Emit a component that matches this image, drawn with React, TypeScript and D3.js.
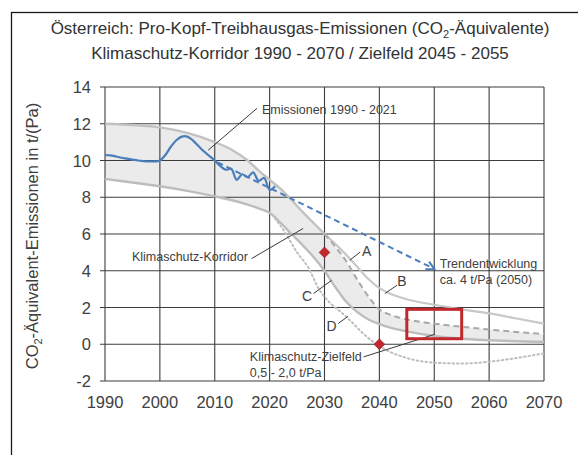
import React from 'react';
import * as d3 from 'd3';

// ---------- data ----------
const xTicks = [1990, 2000, 2010, 2020, 2030, 2040, 2050, 2060, 2070];
const yTicks = [-2, 0, 2, 4, 6, 8, 10, 12, 14];

const emissionYears = [1990, 1991, 1992, 1993, 1994, 1995, 1996, 1997, 1998, 1999, 2000, 2001, 2002, 2003, 2004, 2005, 2006, 2007, 2008, 2009, 2010, 2011, 2012, 2013, 2014, 2015, 2016, 2017, 2018, 2019, 2020, 2021];
const emissionValues = [10.3, 10.28, 10.22, 10.15, 10.1, 10.05, 10.0, 9.97, 9.95, 9.95, 10.0, 10.3, 10.75, 11.1, 11.3, 11.3, 11.1, 10.8, 10.5, 10.25, 10.0, 9.7, 9.5, 9.55, 8.95, 9.25, 9.1, 9.35, 8.9, 9.05, 8.4, 8.6];

const trendYears = [2010.5, 2050];
const trendValues = [9.9, 4.1];

const corridorYears = [1990, 1995, 2000, 2005, 2010, 2013, 2016, 2018, 2020, 2022, 2024, 2026, 2028, 2030, 2032, 2034, 2036, 2038, 2040, 2042, 2045, 2050, 2055, 2060, 2065, 2070];
// upper edge until 2030, continued by path A (dashed) afterwards
const corridorTop = [12.0, 11.93, 11.8, 11.5, 11.0, 10.6, 10.0, 9.45, 8.95, 8.45, 7.85, 7.2, 6.6, 6.0, 5.3, 4.5, 3.5, 2.6, 1.9, 1.6, 1.35, 1.12, 0.95, 0.8, 0.67, 0.55];
// lower edge, path C
const corridorBottom = [9.0, 8.8, 8.6, 8.35, 8.05, 7.85, 7.6, 7.4, 7.15, 6.6, 6.0, 5.4, 4.75, 4.0, 3.1, 2.3, 1.75, 1.35, 1.1, 0.9, 0.7, 0.45, 0.3, 0.22, 0.16, 0.12];

const pathBYears = [2030, 2032, 2034, 2036, 2038, 2040, 2042, 2045, 2050, 2055, 2060, 2065, 2070];
const pathBValues = [6.0, 5.45, 4.85, 4.2, 3.55, 3.05, 2.75, 2.45, 2.15, 1.9, 1.68, 1.4, 1.12];

const pathDYears = [2021, 2023, 2025, 2027, 2029, 2031, 2033, 2035, 2037, 2040, 2045, 2050, 2055, 2060, 2065, 2070];
const pathDValues = [6.85, 6.0, 5.0, 4.2, 3.0, 2.25, 1.75, 1.2, 0.6, -0.1, -0.75, -1.0, -1.05, -0.95, -0.75, -0.5];

const targetYears = [2045, 2055];
const targetValues = [0.3, 1.9];

const milestoneYears = [2030, 2040];
const milestoneValues = [5, 0];

// label texts and anchors (data coordinates)
const labelTexts = ['Emissionen 1990 - 2021', 'Klimaschutz-Korridor', 'Trendentwicklung', 'ca. 4 t/Pa (2050)', 'Klimaschutz-Zielfeld', '0,5 - 2,0 t/Pa', 'A', 'B', 'C', 'D'];
const labelYears = [2018.6, 1994.9, 2051.0, 2051.0, 2016.4, 2016.4, 2037.7, 2044.1, 2026.8, 2031.3];
const labelValues = [12.54, 4.52, 4.16, 3.29, -0.93, -1.8, 4.79, 3.16, 2.34, 0.71];
const labelAnchors = ['start', 'start', 'start', 'start', 'start', 'start', 'middle', 'middle', 'middle', 'middle'];

// leader lines: [year1, value1, year2, value2]
const leaderFrom = [[2017.7, 12.84], [2016.7, 4.66], [2037.1, -0.69], [2034.6, 4.57], [2041.0, 2.76], [2028.0, 2.76], [2032.5, 1.13]];
const leaderTo = [[2008.8, 10.56], [2026.1, 6.3], [2050.1, 0.54], [2036.5, 5.02], [2043.2, 3.21], [2031.3, 3.48], [2034.3, 1.52]];

// ---------- layout ----------
const W = 578;
const H = 455;
const x = d3.scaleLinear().domain([1990, 2070]).range([105, 544]);
const y = d3.scaleLinear().domain([-2, 14]).range([381, 87]);

const FONT = '"Liberation Sans", Arial, Helvetica, sans-serif';
const TXT = '#404040';
const GRID = '#3c3c3c';

type P = [number, number];
const zip = (xs: number[], ys: number[]): P[] => xs.map((v, i) => [v, ys[i]] as P);

export default function App() {
  const smooth = d3.line<P>().x(d => x(d[0])).y(d => y(d[1])).curve(d3.curveMonotoneX);
  const wiggly = d3.line<P>().x(d => x(d[0])).y(d => y(d[1])).curve(d3.curveCatmullRom.alpha(0.5));
  const straight = d3.line<P>().x(d => x(d[0])).y(d => y(d[1]));

  const band = d3.area<number>()
    .x((_, i) => x(corridorYears[i]))
    .y0((_, i) => y(corridorBottom[i]))
    .y1((_, i) => y(corridorTop[i]))
    .curve(d3.curveMonotoneX);

  const top = zip(corridorYears, corridorTop);
  const upperPart = top.filter(d => d[0] <= 2030);
  const partA = top.filter(d => d[0] >= 2030);
  const partC = zip(corridorYears, corridorBottom);
  const partB = zip(pathBYears, pathBValues);
  const partD = zip(pathDYears, pathDValues);
  const emis = zip(emissionYears, emissionValues);
  const trend = zip(trendYears, trendValues);

  // arrow head at trend end
  const tx0 = x(trendYears[0]), ty0 = y(trendValues[0]);
  const tx1 = x(trendYears[1]), ty1 = y(trendValues[1]);
  const ang = Math.atan2(ty1 - ty0, tx1 - tx0);
  const ah = 9, spread = 0.5;
  const arrowPath = `M${tx1 - ah * Math.cos(ang - spread)},${ty1 - ah * Math.sin(ang - spread)} L${tx1},${ty1} L${tx1 - ah * Math.cos(ang + spread)},${ty1 - ah * Math.sin(ang + spread)}`;

  const diamond = d3.symbol().type(d3.symbolSquare).size(58)();

  return (
    <svg width={W} height={H} style={{ position: 'fixed', left: 0, top: 0, background: '#fff' }} fontFamily={FONT}>
      <rect x={0} y={0} width={W} height={H} fill="#fff" />
      {/* outer frame */}
      <rect x={11.5} y={12.5} width={800} height={800} fill="none" stroke="#1a1a1a" strokeWidth={1.3} />

      {/* title */}
      <text x={300} y={34} textAnchor="middle" fontSize={17} fill="#333">
        Österreich: Pro-Kopf-Treibhausgas-Emissionen (CO<tspan fontSize={11} dy={4}>2</tspan><tspan dy={-4}>-Äquivalente)</tspan>
      </text>
      <text x={300} y={59} textAnchor="middle" fontSize={17} fill="#333">
        Klimaschutz-Korridor 1990 - 2070 / Zielfeld 2045 - 2055
      </text>

      {/* corridor band */}
      <path d={band(corridorYears) || ''} fill="#ebebeb" stroke="none" />

      {/* grid */}
      {yTicks.map(t => (
        <line key={'h' + t} x1={100} x2={x(2070)} y1={y(t)} y2={y(t)} stroke={GRID} strokeWidth={1.1} />
      ))}
      {xTicks.map(t => (
        <line key={'v' + t} x1={x(t)} x2={x(t)} y1={y(14)} y2={y(-2)} stroke={GRID} strokeWidth={1.1} />
      ))}

      {/* tick labels */}
      {yTicks.map(t => (
        <text key={'yl' + t} x={91} y={y(t) + 6} textAnchor="end" fontSize={16.5} fill={TXT}>{t}</text>
      ))}
      {xTicks.map(t => (
        <text key={'xl' + t} x={x(t)} y={407.5} textAnchor="middle" fontSize={16.5} fill={TXT}>{t}</text>
      ))}

      {/* y axis title */}
      <text transform="translate(38,236) rotate(-90)" textAnchor="middle" fontSize={16.5} fill={TXT}>
        CO<tspan fontSize={11} dy={4}>2</tspan><tspan dy={-4}>-Äquivalent-Emissionen in t/(Pa)</tspan>
      </text>

      {/* corridor lines */}
      <path d={smooth(upperPart) || ''} fill="none" stroke="#c2c2c2" strokeWidth={2.4} />
      <path d={smooth(partC) || ''} fill="none" stroke="#bdbdbd" strokeWidth={2.4} />
      <path d={smooth(partB) || ''} fill="none" stroke="#c8c8c8" strokeWidth={2.2} />
      <path d={smooth(partA) || ''} fill="none" stroke="#a8a8a8" strokeWidth={2} strokeDasharray="6,4" />
      <path d={smooth(partD) || ''} fill="none" stroke="#bdbdbd" strokeWidth={2} strokeDasharray="1.5,3" strokeLinecap="round" />

      {/* emissions + trend */}
      <path d={straight(trend) || ''} fill="none" stroke="#4a7ebb" strokeWidth={2} strokeDasharray="6,4" />
      <path d={arrowPath} fill="none" stroke="#4a7ebb" strokeWidth={2} />
      <path d={wiggly(emis) || ''} fill="none" stroke="#4a7ebb" strokeWidth={2.2} />

      {/* leader lines */}
      {leaderFrom.map((f, i) => (
        <line key={'ld' + i} x1={x(f[0])} y1={y(f[1])} x2={x(leaderTo[i][0])} y2={y(leaderTo[i][1])} stroke="#3a3a3a" strokeWidth={1} />
      ))}

      {/* labels */}
      {labelTexts.map((t, i) => (
        <text key={'lb' + i} x={x(labelYears[i])} y={y(labelValues[i])} textAnchor={labelAnchors[i] as any} fontSize={i >= 6 ? 14 : 12.5} fill={TXT}>{t}</text>
      ))}

      {/* target field */}
      <rect x={x(targetYears[0])} y={y(targetValues[1])} width={x(targetYears[1]) - x(targetYears[0])} height={y(targetValues[0]) - y(targetValues[1])} fill="none" stroke="#c0282d" strokeWidth={3} />

      {/* milestones */}
      {milestoneYears.map((yr, i) => (
        <path key={'ms' + i} d={diamond || ''} transform={`translate(${x(yr)},${y(milestoneValues[i])}) rotate(45)`} fill="#c0282d" stroke="#8e1a1e" strokeWidth={0.6} />
      ))}
    </svg>
  );
}
